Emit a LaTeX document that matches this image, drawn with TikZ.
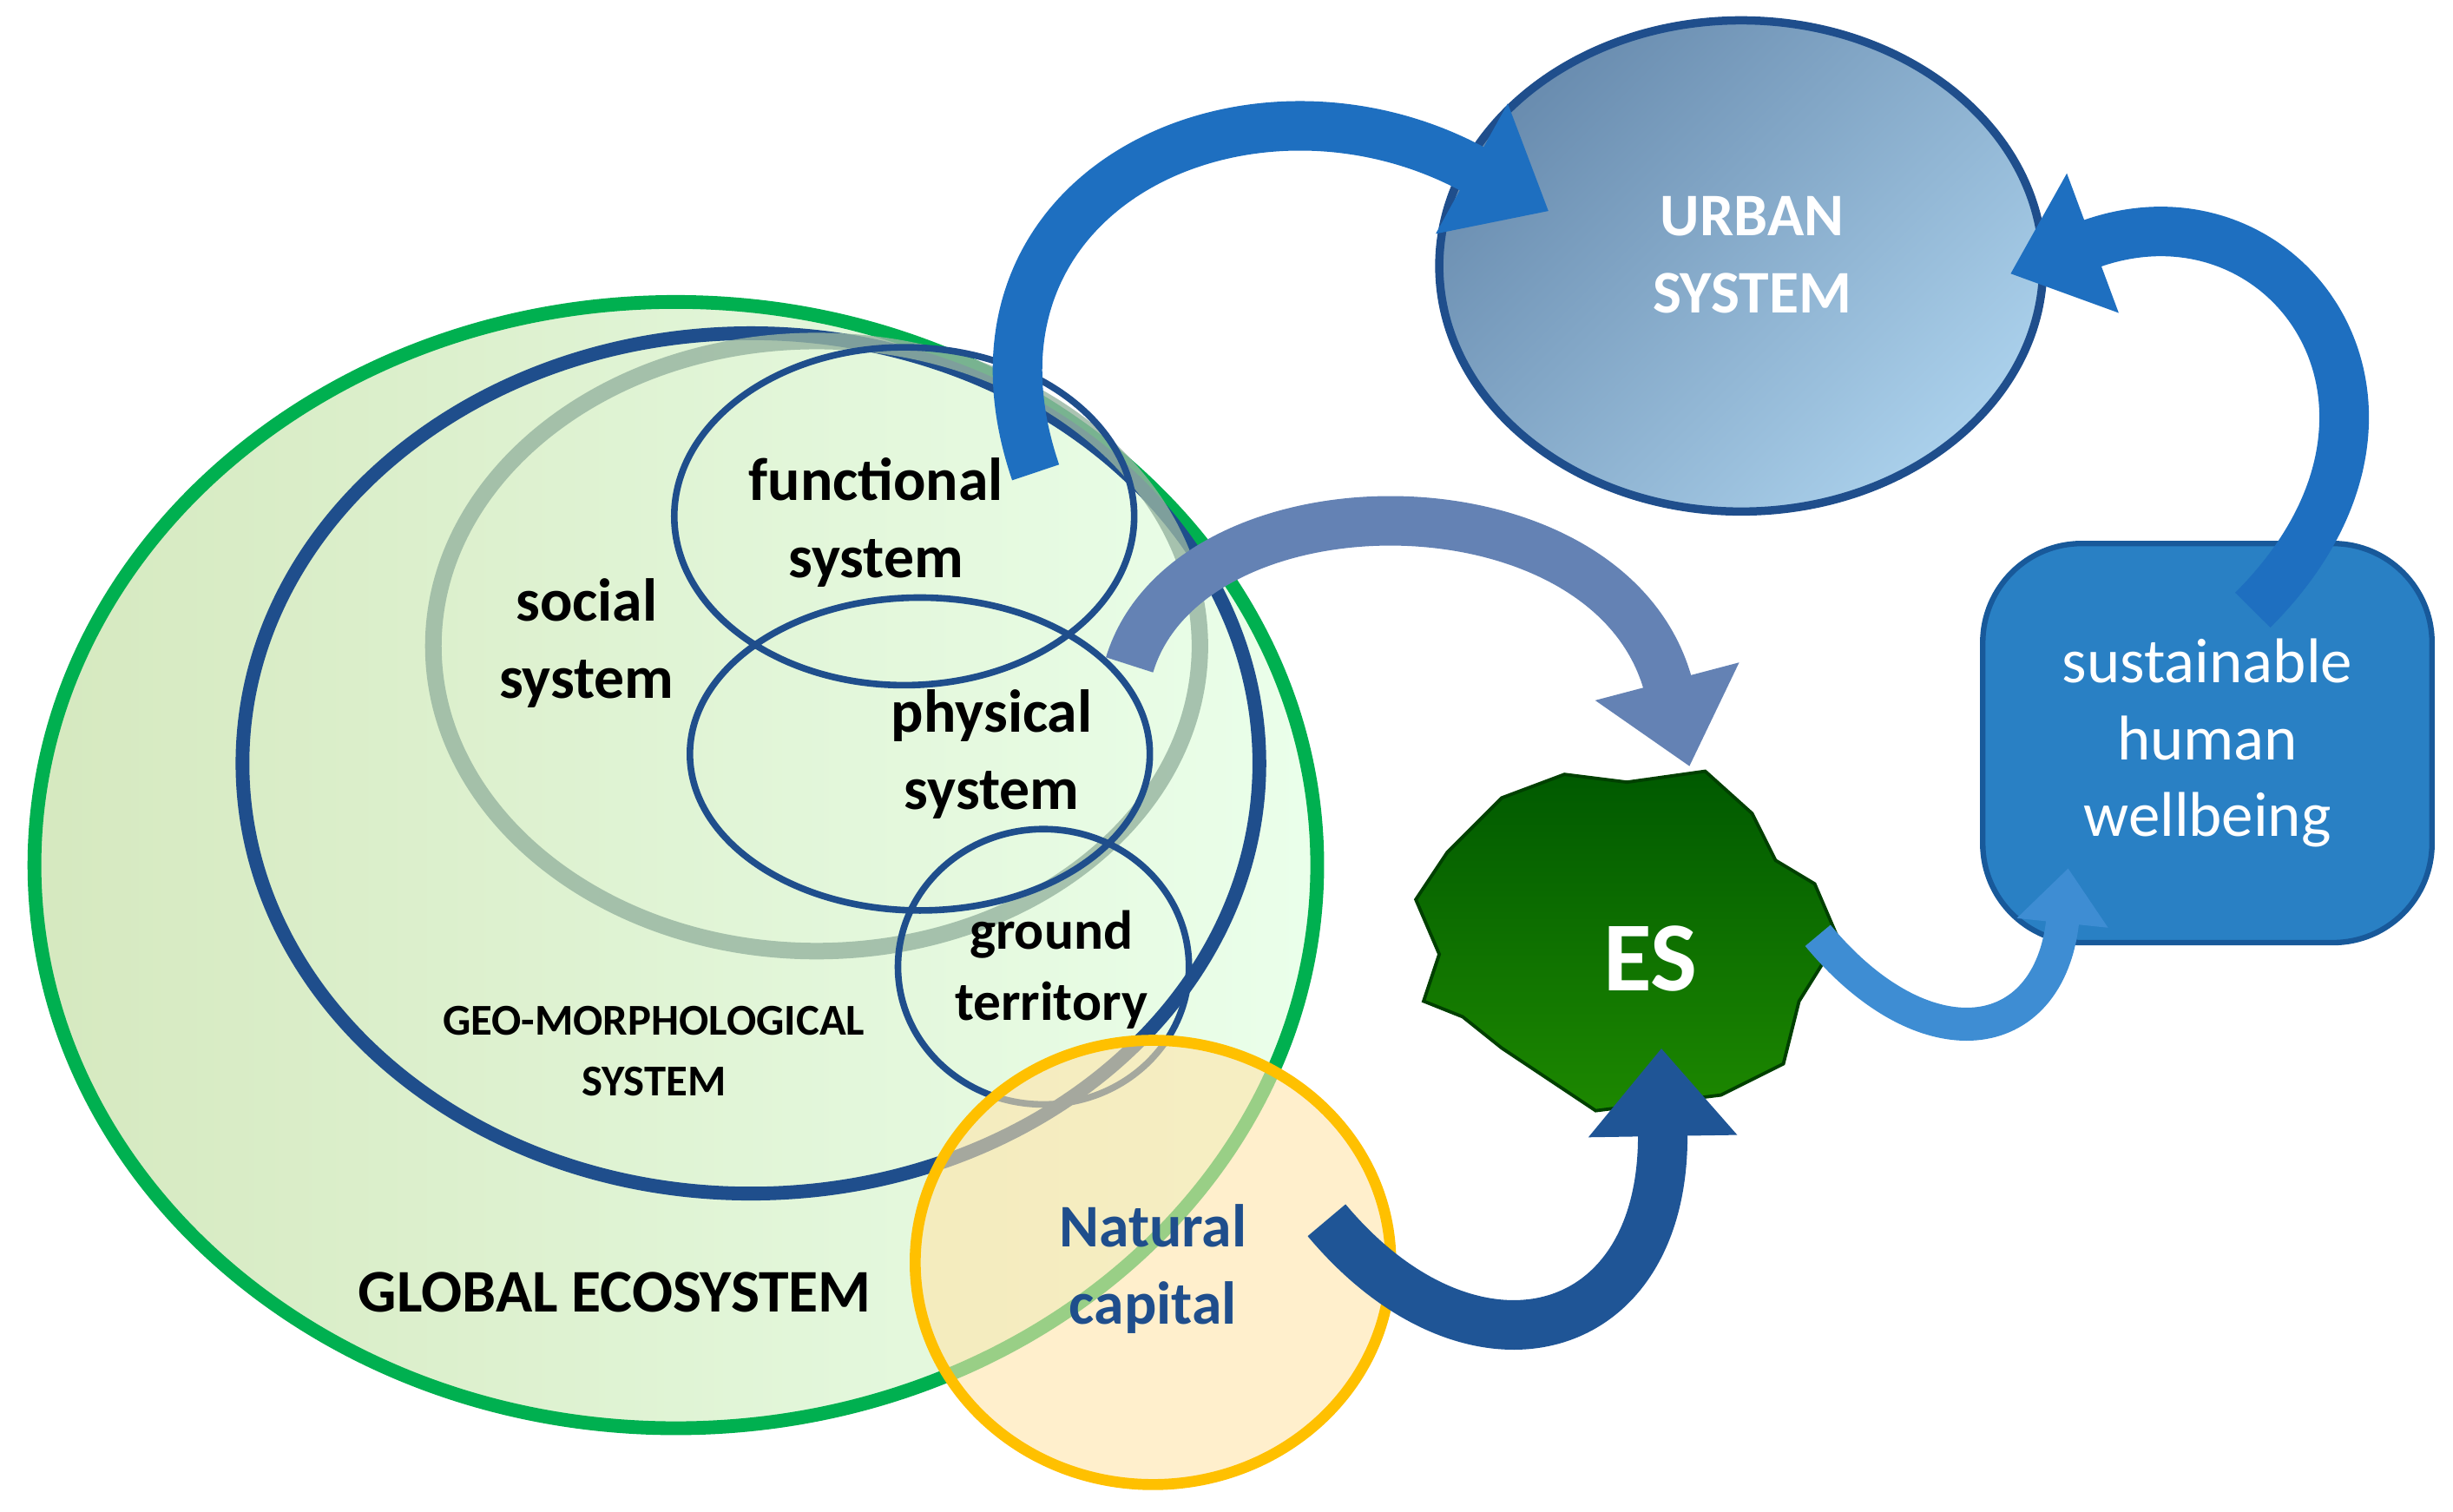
\documentclass[tikz,border=0pt]{standalone}
\usepackage{fontspec}
\setmainfont{Carlito}
\usetikzlibrary{arrows.meta}
\definecolor{dblue}{HTML}{1F4E8C}
\definecolor{abl}{HTML}{1E6FC0}
\definecolor{gecol}{RGB}{0,176,80}
\definecolor{ncol}{RGB}{255,192,0}
\definecolor{nfill}{RGB}{255,228,170}
\definecolor{boxf}{RGB}{41,128,196}
\definecolor{garr}{RGB}{100,130,180}
\definecolor{urbA}{RGB}{105,140,175}
\definecolor{urbB}{RGB}{170,208,235}
\definecolor{socc}{RGB}{150,180,160}
\tikzset{
 lab/.style={font=\bfseries\fontsize{11}{14}\selectfont,align=center,text=black},
 inner/.style={draw=dblue,line width=1.2pt},
 barrow/.style={line width=9pt,draw=abl,-{Triangle[length=16pt,width=26pt]}},
}
\begin{document}
\begin{tikzpicture}[x=0.01cm,y=-0.01cm]
\useasboundingbox (0,0) rectangle (1568,966);
\draw[gecol,line width=2.5pt,left color=green!30!olive!25!white,right color=green!8!white] (432,553) ellipse [x radius=410,y radius=360];
\draw[dblue,line width=2.5pt] (480,488) ellipse [x radius=325,y radius=275];
\draw[socc,opacity=0.8,line width=3pt] (522,413) ellipse [x radius=245,y radius=195];
\draw[inner] (578,330) ellipse [x radius=147,y radius=108];
\draw[inner] (588,482) ellipse [x radius=147,y radius=100];
\draw[inner] (667,618) ellipse [x radius=93,y radius=88];
\draw[ncol,line width=2pt,fill=nfill,fill opacity=0.6] (737,807) ellipse [x radius=152,y radius=142];
\node[lab] (f) at (560,334) {functional\\system};
\node[lab] (s) at (375,411) {social\\system};
\node[lab] (p) at (634,482) {physical\\system};
\node[lab,font=\bfseries\fontsize{10}{13}\selectfont] (gt) at (672,620) {ground\\territory};
\node[font=\bfseries\fontsize{8}{11}\selectfont,align=center] (geo) at (418,672) {GEO-MORPHOLOGICAL\\SYSTEM};
\node[font=\bfseries\fontsize{11}{13}\selectfont] (ge) at (393,826) {GLOBAL ECOSYSTEM};
\node[lab,text=dblue] (nc) at (737,811) {Natural\\capital};
% urban
\draw[dblue,line width=1.5pt,left color=urbA,right color=urbB,shading angle=45] (1113,170) ellipse [x radius=193,y radius=157];
\node[lab,text=white] (u) at (1120,163) {URBAN\\SYSTEM};
% box
\node[draw=abl!80!black,fill=boxf,rounded corners=18pt,minimum width=2.87cm,minimum height=2.55cm,line width=1pt,font=\fontsize{11.5}{14}\selectfont,align=center,text=white] (sw) at (1411,475) {sustainable\\human\\wellbeing};
% ES blob
\draw[top color=green!35!black,bottom color=green!45!black!85!lime,draw=green!25!black,line width=0.6pt]
 (960,510) -- (1000,495) -- (1040,500) -- (1090,493) -- (1120,520) -- (1135,550) -- (1160,565) -- (1175,600) -- (1150,640) -- (1140,680) -- (1100,700) -- (1060,705) -- (1020,710) -- (990,690) -- (960,670) -- (935,650) -- (910,640) -- (920,610) -- (905,575) -- (925,545) -- cycle;
\node[font=\bfseries\fontsize{18}{20}\selectfont,text=white] (es) at (1055,613) {ES};
% arrows
\draw[barrow] (662,302) .. controls (600,120) and (800,30) .. (990,135);
\draw[barrow] (1440,390) .. controls (1570,260) and (1460,110) .. (1285,175);
\draw[barrow,draw=garr] (722,425) .. controls (760,300) and (1030,300) .. (1080,490);
\draw[barrow,draw=dblue!80!abl] (848,780) .. controls (940,890) and (1065,860) .. (1062,670);
\draw[line width=6pt,draw=cyan!60!blue!80,-{Triangle[length=10pt,width=16pt]}] (1162,598) .. controls (1230,680) and (1310,670) .. (1322,555);
\end{tikzpicture}
\end{document}
